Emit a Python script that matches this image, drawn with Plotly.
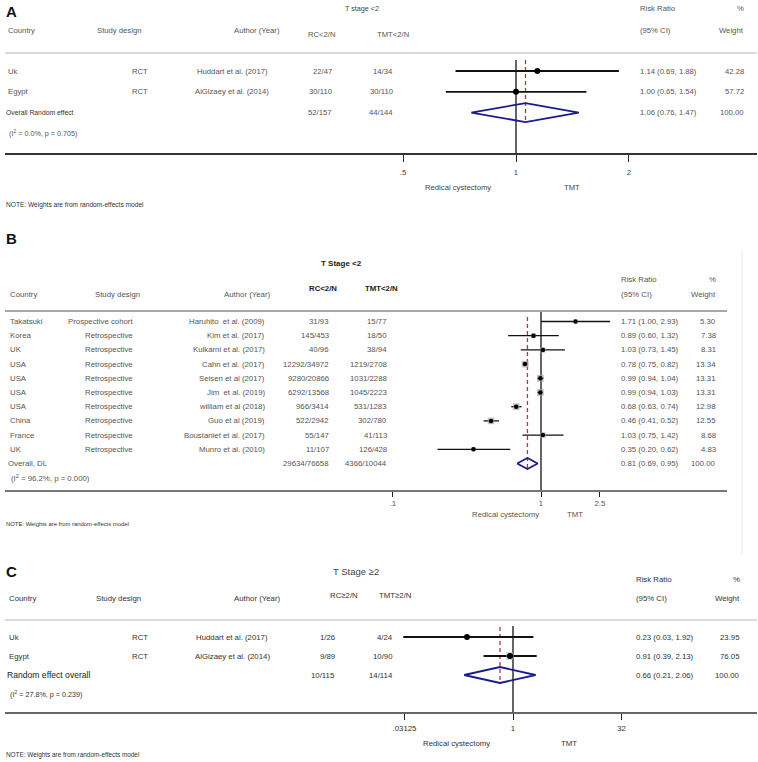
import plotly.graph_objects as go
import math

W, H = 758, 762

# ---------------- DATA ----------------
# Panel A : T stage <2 (RCT)
A_country = ["Uk", "Egypt"]
A_design = ["RCT", "RCT"]
A_author = ["Huddart et al. (2017)", "AlGizaey et al. (2014)"]
A_rc = ["22/47", "30/110"]
A_tmt = ["14/34", "30/110"]
A_rr = [1.14, 1.00]
A_lo = [0.69, 0.65]
A_hi = [1.88, 1.54]
A_wt = [42.28, 57.72]
A_ov_label = "Overall Random effect"
A_ov_rc, A_ov_tmt = "52/157", "44/144"
A_ov_rr, A_ov_lo, A_ov_hi, A_ov_wt = 1.06, 0.76, 1.47, 100.00
A_het = "(I<sup>2</sup> = 0.0%, p = 0.705)"
A_tickvals = [0.5, 1, 2]
A_ticktext = [".5", "1", "2"]

# Panel B : T Stage <2 (observational)
B_country = ["Takatsuki", "Korea", "UK", "USA", "USA", "USA", "USA", "China", "France", "UK"]
B_design = ["Prospective cohort"] + ["Retrospective"] * 9
B_author = ["Haruhito  et al. (2009)", "Kim et al. (2017)", "Kulkarni et al. (2017)",
            "Cahn et al. (2017)", "Seisen et al (2017)", "Jim  et al. (2019)",
            "william et al (2018)", "Guo et al (2019)", "Boustaniet et al. (2017)",
            "Munro et al. (2010)"]
B_rc = ["31/93", "145/453", "40/96", "12292/34972", "9280/20866", "6292/13568",
        "966/3414", "522/2942", "55/147", "11/107"]
B_tmt = ["15/77", "18/50", "38/94", "1219/2708", "1031/2288", "1045/2223",
         "531/1283", "302/780", "41/113", "126/428"]
B_rr = [1.71, 0.89, 1.03, 0.78, 0.99, 0.99, 0.68, 0.46, 1.03, 0.35]
B_lo = [1.00, 0.60, 0.73, 0.75, 0.94, 0.94, 0.63, 0.41, 0.75, 0.20]
B_hi = [2.93, 1.32, 1.45, 0.82, 1.04, 1.03, 0.74, 0.52, 1.42, 0.62]
B_wt = [5.30, 7.38, 8.31, 13.34, 13.31, 13.31, 12.98, 12.55, 8.68, 4.83]
B_ov_label = "Overall, DL"
B_ov_rc, B_ov_tmt = "29634/76658", "4366/10044"
B_ov_rr, B_ov_lo, B_ov_hi, B_ov_wt = 0.81, 0.69, 0.95, 100.00
B_het = "(I<sup>2</sup> = 96.2%, p = 0.000)"
B_tickvals = [0.1, 1, 2.5]
B_ticktext = [".1", "1", "2.5"]

# Panel C : T Stage >=2 (RCT)
C_country = ["Uk", "Egypt"]
C_design = ["RCT", "RCT"]
C_author = ["Huddart et al. (2017)", "AlGizaey et al. (2014)"]
C_rc = ["1/26", "9/89"]
C_tmt = ["4/24", "10/90"]
C_rr = [0.23, 0.91]
C_lo = [0.03, 0.39]
C_hi = [1.92, 2.13]
C_wt = [23.95, 76.05]
C_ov_label = "Random effect overall"
C_ov_rc, C_ov_tmt = "10/115", "14/114"
C_ov_rr, C_ov_lo, C_ov_hi, C_ov_wt = 0.66, 0.21, 2.06, 100.00
C_het = "(I<sup>2</sup> = 27.8%, p = 0.239)"
C_tickvals = [0.03125, 1, 32]
C_ticktext = [".03125", "1", "32"]

# ---------------- STYLE ----------------
SANS = "Liberation Sans, Arial, sans-serif"
NAVY = "#1c1c8c"
RED = "#b03a3a"

fig = go.Figure()
annotations = []
shapes = []


def px(x):
    return x / W


def py(y):
    return 1 - y / H


def txt(x, y, s, size, color, anchor="left", font=SANS):
    annotations.append(dict(x=px(x), y=py(y), xref="paper", yref="paper", text=s,
                            showarrow=False, xanchor=anchor, yanchor="middle",
                            font=dict(family=font, size=size, color=color)))


def hline(y, x0, x1, color, width):
    shapes.append(dict(type="line", xref="paper", yref="paper", x0=px(x0), x1=px(x1),
                       y0=py(y), y1=py(y), line=dict(color=color, width=width)))


def panel(n_ax, d, L):
    xa = "x" if n_ax == 1 else "x%d" % n_ax
    n = len(d["country"])
    ys = [L["y0"] + i * L["dy"] for i in range(n)]
    oy = L["y0"] + n * L["dy"]
    hy = L["y0"] + (n + 1) * L["dy"]
    fs, col = L["fs"], L["color"]

    # headers
    txt(L["lx"], L["ly"], "<b>%s</b>" % L["letter"], 15, "#111")
    txt(L["tx"], L["ty"], L["title"], L["tfs"], L["tcol"], anchor="center")
    hy1, hy2 = L["hy1"], L["hy2"]
    txt(L["xc"], hy2, "Country", fs, col)
    txt(L["hx_design"], hy2, "Study design", fs, col)
    txt(L["hx_author"], hy2, "Author (Year)", fs, col)
    txt(L["hx_rc"], L["hy_n"], L["rc_head"], fs, L["ncol"])
    txt(L["hx_tmt"], L["hy_n"], L["tmt_head"], fs, L["ncol"])
    txt(L["xrr"], hy1, "Risk Ratio", fs, col)
    txt(L["xwt"], hy1, "%", fs, col, anchor="right")
    txt(L["xrr"], hy2, "(95% CI)", fs, col)
    txt(L["xwt"], hy2, "Weight", fs, col, anchor="right")
    hline(L["sep_y"], 5, L["x_end"], L["sep_col"], L["sep_w"])

    # rows
    for i in range(n):
        y = ys[i]
        txt(L["xc"], y, d["country"][i], fs, col)
        txt(L["x_design"], y, d["design"][i], fs, col, anchor=L["design_anchor"])
        txt(L["x_author"], y, d["author"][i], fs, col, anchor=L["author_anchor"])
        txt(L["x_rc"], y, d["rc"][i], fs, col, anchor="right")
        txt(L["x_tmt"], y, d["tmt"][i], fs, col, anchor="right")
        txt(L["xrr"], y, "%.2f (%.2f, %.2f)" % (d["rr"][i], d["lo"][i], d["hi"][i]), fs, col)
        txt(L["xwt"], y, "%.2f" % d["wt"][i], fs, col, anchor="right")
    # overall row
    txt(L["xc"] - 2, oy, d["ov_label"], L["ov_fs"], L["ov_col"])
    txt(L["x_rc"], oy, d["ov_rc"], fs, col, anchor="right")
    txt(L["x_tmt"], oy, d["ov_tmt"], fs, col, anchor="right")
    txt(L["xrr"], oy, "%.2f (%.2f, %.2f)" % (d["ov_rr"], d["ov_lo"], d["ov_hi"]), fs, col)
    txt(L["xwt"], oy, "%.2f" % d["ov_wt"], fs, col, anchor="right")
    txt(L["xc"] + 1, hy, d["het"], L["het_fs"], col)

    # axis labels
    txt(L["lab1_x"], L["lab_y"], "Redical cystectomy", fs, L["labcol"], anchor="center")
    txt(L["lab2_x"], L["lab_y"], "TMT", fs, L["labcol"], anchor="center")
    txt(4, L["note_y"], "NOTE: Weights are from random-effects model", L["note_fs"], "#333")

    # null line
    fig.add_trace(go.Scatter(x=[1, 1], y=[L["null_top"], L["axis_y"]], xaxis=xa, yaxis="y",
                             mode="lines", line=dict(color="#111", width=1.3),
                             hoverinfo="skip", showlegend=False))
    # overall dashed line
    fig.add_trace(go.Scatter(x=[d["ov_rr"], d["ov_rr"]], y=[L["red_top"], oy + L["dh"] + 1],
                             xaxis=xa, yaxis="y", mode="lines",
                             line=dict(color=RED, width=1.3, dash="4px,3px"),
                             hoverinfo="skip", showlegend=False))
    # CI lines
    cx, cy = [], []
    for i in range(n):
        cx += [d["lo"][i], d["hi"][i], None]
        cy += [ys[i], ys[i], None]
    fig.add_trace(go.Scatter(x=cx, y=cy, xaxis=xa, yaxis="y", mode="lines",
                             line=dict(color="#111", width=L["ci_w"]),
                             hoverinfo="skip", showlegend=False))
    # weight boxes
    if L["box_k"] > 0:
        fig.add_trace(go.Scatter(x=d["rr"], y=ys, xaxis=xa, yaxis="y", mode="markers",
                                 marker=dict(symbol="square", color="#a8a8a8",
                                             size=[L["box_k"] * math.sqrt(w) for w in d["wt"]],
                                             line=dict(width=0)),
                                 hoverinfo="skip", showlegend=False))
    # point estimates
    fig.add_trace(go.Scatter(x=d["rr"], y=ys, xaxis=xa, yaxis="y", mode="markers",
                             marker=dict(symbol="circle", color="#000", size=L["dot"]),
                             hoverinfo="skip", showlegend=False))
    # diamond
    dh = L["dh"]
    fig.add_trace(go.Scatter(x=[d["ov_lo"], d["ov_rr"], d["ov_hi"], d["ov_rr"], d["ov_lo"]],
                             y=[oy, oy - dh, oy, oy + dh, oy], xaxis=xa, yaxis="y",
                             mode="lines", line=dict(color=NAVY, width=1.8),
                             hoverinfo="skip", showlegend=False))

    # x axis (log scale); pixel position of value 1 and pixels per decade
    c, k = L["x_one"], L["px_dec"]
    r0 = (5 - c) / k
    r1 = (L["x_end"] - c) / k
    axname = "xaxis" if n_ax == 1 else "xaxis%d" % n_ax
    fig.layout[axname] = dict(type="log", domain=[px(5), px(L["x_end"])], range=[r0, r1],
                              anchor="free", position=py(L["axis_y"]),
                              showline=True, linecolor=L["axcol"], linewidth=L["axw"],
                              ticks="outside", ticklen=L["ticklen"], tickwidth=1.3,
                              tickcolor="#222",
                              tickvals=d["tickvals"], ticktext=d["ticktext"],
                              tickfont=dict(family=SANS, size=fs, color=L["labcol"]),
                              ticklabelstandoff=L["standoff"],
                              showgrid=False, zeroline=False, fixedrange=True)


A = dict(country=A_country, design=A_design, author=A_author, rc=A_rc, tmt=A_tmt,
         rr=A_rr, lo=A_lo, hi=A_hi, wt=A_wt, ov_label=A_ov_label, ov_rc=A_ov_rc,
         ov_tmt=A_ov_tmt, ov_rr=A_ov_rr, ov_lo=A_ov_lo, ov_hi=A_ov_hi, ov_wt=A_ov_wt,
         het=A_het, tickvals=A_tickvals, ticktext=A_ticktext)
B = dict(country=B_country, design=B_design, author=B_author, rc=B_rc, tmt=B_tmt,
         rr=B_rr, lo=B_lo, hi=B_hi, wt=B_wt, ov_label=B_ov_label, ov_rc=B_ov_rc,
         ov_tmt=B_ov_tmt, ov_rr=B_ov_rr, ov_lo=B_ov_lo, ov_hi=B_ov_hi, ov_wt=B_ov_wt,
         het=B_het, tickvals=B_tickvals, ticktext=B_ticktext)
C = dict(country=C_country, design=C_design, author=C_author, rc=C_rc, tmt=C_tmt,
         rr=C_rr, lo=C_lo, hi=C_hi, wt=C_wt, ov_label=C_ov_label, ov_rc=C_ov_rc,
         ov_tmt=C_ov_tmt, ov_rr=C_ov_rr, ov_lo=C_ov_lo, ov_hi=C_ov_hi, ov_wt=C_ov_wt,
         het=C_het, tickvals=C_tickvals, ticktext=C_ticktext)

LA = dict(letter="A", lx=4, ly=11, title="T stage &lt;2", tx=362, ty=8, tfs=7.2, tcol="#444",
          fs=7.7, color="#555", ncol="#555",
          hy1=8, hy2=30, hy_n=35, xc=6, hx_design=95, hx_author=232, hx_rc=306, hx_tmt=375,
          rc_head="RC&lt;2/N", tmt_head="TMT&lt;2/N",
          xrr=638, xwt=746, sep_y=53, x_end=757, sep_col="#cfcfcf", sep_w=1.5,
          y0=71, dy=20.8, x_design=130, design_anchor="left", x_author=232,
          author_anchor="center", x_rc=334, x_tmt=395, ov_fs=6.8, ov_col="#333", het_fs=7.2,
          lab1_x=458, lab2_x=572, lab_y=188, labcol="#444", note_y=205, note_fs=6.6,
          null_top=60, red_top=60, axis_y=154, ci_w=1.8, box_k=0, dot=6, dh=9.5,
          x_one=516, px_dec=375.3, axcol="#333", axw=2, ticklen=7, standoff=4)
LB = dict(letter="B", lx=4, ly=239, title="<b>T Stage &lt;2</b>", tx=341, ty=263, tfs=8,
          tcol="#222", fs=7.8, color="#555", ncol="#222",
          hy1=280, hy2=294, hy_n=289, xc=8, hx_design=93, hx_author=222,
          hx_rc=307, hx_tmt=363, rc_head="<b>RC&lt;2/N</b>", tmt_head="<b>TMT&lt;2/N</b>",
          xrr=619, xwt=718, sep_y=311, x_end=727, sep_col="#8a8a8a", sep_w=1.5,
          y0=321.5, dy=14.2, x_design=135, design_anchor="right", x_author=267,
          author_anchor="right", x_rc=331, x_tmt=389, ov_fs=7.8, ov_col="#555", het_fs=7.8,
          lab1_x=505, lab2_x=575, lab_y=514, labcol="#555", note_y=524, note_fs=5.9,
          null_top=312, red_top=317, axis_y=491, ci_w=1.3, box_k=1.85, dot=4.5, dh=5.5,
          x_one=541, px_dec=148.05, axcol="#777", axw=1.5, ticklen=5, standoff=0)
LC = dict(letter="C", lx=4, ly=571, title="T Stage ≥2", tx=356, ty=571, tfs=9.5, tcol="#444",
          fs=7.8, color="#333", ncol="#333",
          hy1=579, hy2=598, hy_n=595, xc=7, hx_design=94, hx_author=232, hx_rc=328,
          hx_tmt=377, rc_head="RC≥2/N", tmt_head="TMT≥2/N",
          xrr=634, xwt=742, sep_y=620, x_end=757, sep_col="#d0d0d0", sep_w=1.5,
          y0=637, dy=19, x_design=130, design_anchor="left", x_author=232,
          author_anchor="center", x_rc=337, x_tmt=395, ov_fs=8.6, ov_col="#222", het_fs=7.2,
          lab1_x=456, lab2_x=569, lab_y=743, labcol="#333", note_y=755, note_fs=6.4,
          null_top=626, red_top=627, axis_y=713, ci_w=1.8, box_k=0.84, dot=6, dh=8,
          x_one=513, px_dec=72.07, axcol="#666", axw=2, ticklen=6, standoff=2)

panel(1, A, LA)
panel(2, B, LB)
panel(3, C, LC)

# faint frame edge on the right of panel B
shapes.append(dict(type="line", xref="paper", yref="paper", x0=px(742), x1=px(742),
                   y0=py(250), y1=py(555), line=dict(color="#e8e8e8", width=1)))

fig.update_layout(
    width=W, height=H, margin=dict(l=0, r=0, t=0, b=0),
    paper_bgcolor="white", plot_bgcolor="rgba(0,0,0,0)",
    yaxis=dict(range=[H, 0], domain=[0, 1], visible=False, fixedrange=True, anchor="x"),
    annotations=annotations, shapes=shapes, showlegend=False,
)

fig.write_html("out.html",
               config={"displayModeBar": False},
               post_script="document.body.style.margin='0px';"
                           "document.body.style.overflow='hidden';")
